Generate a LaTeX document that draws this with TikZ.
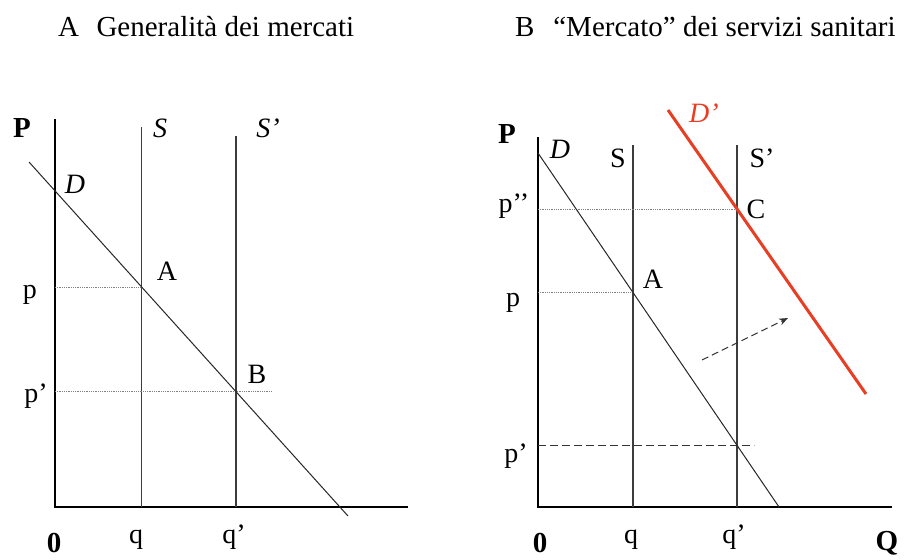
\documentclass[tikz,border=0pt]{standalone}
\usepackage{fontspec}
\setmainfont{Liberation Serif}
\usetikzlibrary{arrows.meta}
\definecolor{dred}{RGB}{232,62,36}
\definecolor{lgray}{RGB}{60,60,60}
\begin{document}
\begin{tikzpicture}[x=1pt,y=-1pt,
  lbl/.style={font=\fontsize{28}{28}\selectfont, anchor=base, inner sep=0pt},
  blbl/.style={lbl, font=\fontsize{29}{29}\selectfont\bfseries},
  ilbl/.style={lbl, font=\fontsize{28}{28}\selectfont\itshape},
  ttl/.style={font=\fontsize{29}{29}\selectfont, anchor=base west, inner sep=0pt},
  axisline/.style={line width=1.3pt, black},
  vline/.style={line width=1.1pt, lgray},
  dline/.style={line width=1pt, black!85},
  guide/.style={line width=0.8pt, gray, dash pattern=on 1pt off 0.8pt},
  dashguide/.style={line width=1pt, black!80, dash pattern=on 8pt off 4pt},
  shiftarrow/.style={line width=1pt, black!80, dash pattern=on 7pt off 4pt, -{Stealth[length=9pt,width=7pt]}},
  redline/.style={line width=3pt, dred}
]
\useasboundingbox (0,0) rectangle (904,559);

% titles
\node[ttl] (tA) at (58,37) {A\hspace{0.6em}Generalità dei mercati};
\node[ttl] (tB) at (515,37) {B\hspace{0.65em}“Mercato” dei servizi sanitari};

% ---------------- Panel A ----------------
\coordinate (aO) at (55,507);
\coordinate (aPtop) at (55,119);
\coordinate (aQend) at (408,507);
\coordinate (aStop) at (141.7,127);
\coordinate (aSbot) at (141.7,507);
\coordinate (aS2top) at (236,136);
\coordinate (aS2bot) at (236,507);
\coordinate (aD1) at (29,162);
\coordinate (aD2) at (348,516);
\coordinate (aA) at (intersection of aD1--aD2 and aStop--aSbot);
\coordinate (aB) at (intersection of aD1--aD2 and aS2top--aS2bot);

\draw[axisline] (aPtop) -- (aO) -- (aQend);
\draw[vline] (aStop) -- (aSbot);
\draw[vline] (aS2top) -- (aS2bot);
\draw[guide] (aA -| aO) -- (aA);
\draw[guide] (aB -| aO) -- (aB) -- ++(36,0) coordinate (aBend);
\draw[dline] (aD1) -- (aD2);

\node[blbl] (aP) at (22,137) {P};
\node[ilbl] (aSl) at (160,137) {S};
\node[ilbl] (aS2l) at (268,137) {S’};
\node[ilbl] (aDl) at (75,193) {D};
\node[lbl] (aAl) at (167,280) {A};
\node[lbl] (aBl) at (257,383) {B};
\node[lbl] (apl) at (30,298) {p};
\node[lbl] (ap2l) at (36,402) {p’};
\node[blbl] (a0l) at (54,552) {0};
\node[lbl] (aql) at (136,543) {q};
\node[lbl] (aq2l) at (234,543) {q’};

% ---------------- Panel B ----------------
\coordinate (bO) at (538,507);
\coordinate (bPtop) at (538,137);
\coordinate (bQend) at (892,507);
\coordinate (bStop) at (633,145);
\coordinate (bSbot) at (633,507);
\coordinate (bS2top) at (737,145);
\coordinate (bS2bot) at (737,507);
\coordinate (bD1) at (538,153);
\coordinate (bD2) at (779,507);
\coordinate (bR1) at (668,110);
\coordinate (bR2) at (866,394);
\coordinate (bA) at (intersection of bD1--bD2 and bStop--bSbot);
\coordinate (bB) at (intersection of bD1--bD2 and bS2top--bS2bot);
\coordinate (bC) at (intersection of bR1--bR2 and bS2top--bS2bot);
\coordinate (bArrS) at (702,360);
\coordinate (bArrE) at (788,318);

\draw[axisline] (bPtop) -- (bO) -- (bQend);
\draw[vline] (bStop) -- (bSbot);
\draw[vline] (bS2top) -- (bS2bot);
\draw[guide] (bC -| bO) -- (bC);
\draw[guide] (bA -| bO) -- (bA);
\draw[dashguide] (bB -| bO) -- (bB) -- ++(17,0) coordinate (bBend);
\draw[dline] (bD1) -- (bD2);
\draw[redline] (bR1) -- (bR2);
\draw[shiftarrow] (bArrS) -- (bArrE);

\node[blbl] (bP) at (507,143) {P};
\node[ilbl] (bDl) at (560,158) {D};
\node[lbl] (bSl) at (618,167) {S};
\node[lbl] (bS2l) at (762,167) {S’};
\node[ilbl, text=dred] (bR) at (704,123) {D’};
\node[lbl] (bp2l) at (514,212) {p’’};
\node[lbl] (bCl) at (756,218) {C};
\node[lbl] (bAl) at (653,288) {A};
\node[lbl] (bpl) at (513,306) {p};
\node[lbl] (bp3l) at (516,462) {p’};
\node[blbl] (b0l) at (540,552) {0};
\node[lbl] (bql) at (631,543) {q};
\node[lbl] (bq2l) at (734,543) {q’};
\node[blbl] (bQl) at (887,550) {Q};
\end{tikzpicture}
\end{document}
